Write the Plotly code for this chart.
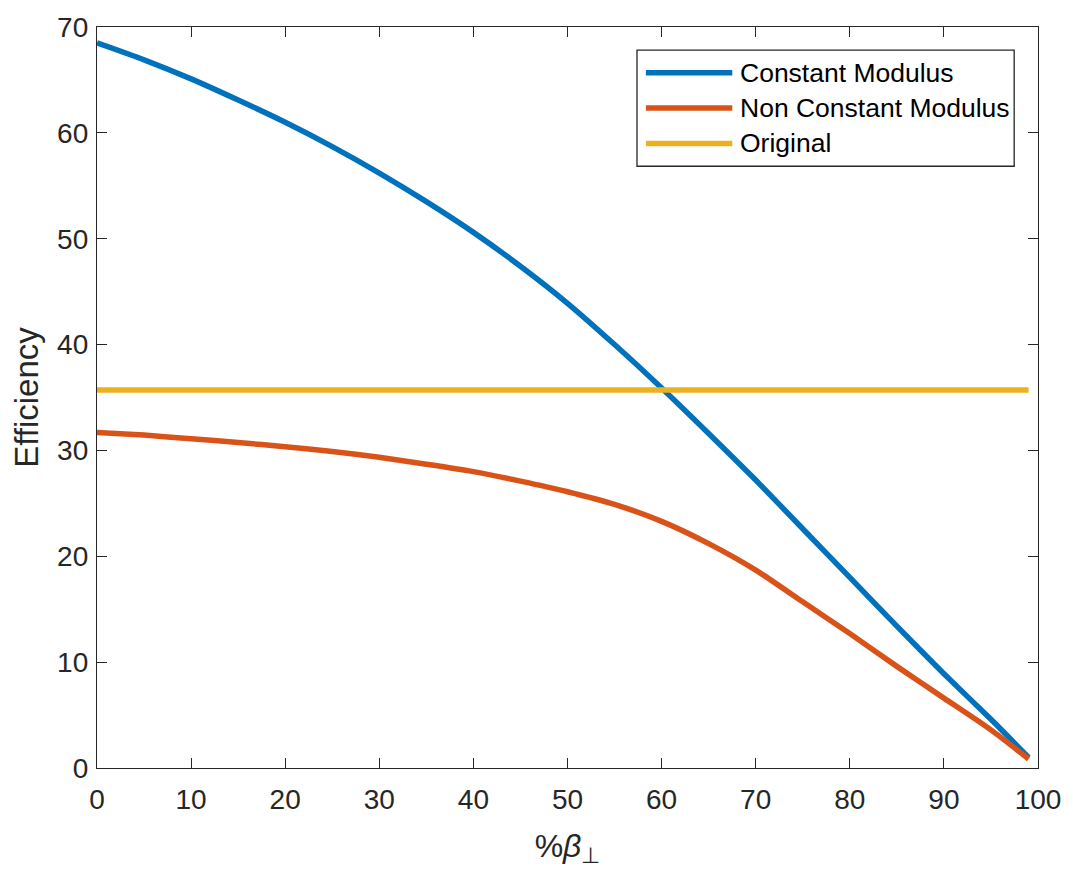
import plotly.graph_objects as go

# Percentage of perpendicular beta, sampled every 5 points up to 99
beta_pct = [0, 5, 10, 15, 20, 25, 30, 35, 40, 45, 50,
            55, 60, 65, 70, 75, 80, 85, 90, 95, 99]

# Efficiency of the constant-modulus design
eff_constant = [68.5, 66.9, 65.1, 63.1, 61.0, 58.7, 56.2, 53.5, 50.6, 47.4, 43.9,
                40.0, 35.9, 31.6, 27.2, 22.6, 18.0, 13.4, 8.9, 4.6, 1.0]

# Efficiency of the non-constant-modulus design
eff_nonconstant = [31.7, 31.45, 31.1, 30.75, 30.35, 29.9, 29.35, 28.7, 28.0, 27.1, 26.1,
                   24.9, 23.3, 21.2, 18.7, 15.7, 12.7, 9.6, 6.6, 3.6, 0.85]

# Efficiency of the original design (flat reference)
eff_original = 35.7

series_names = ["Constant Modulus", "Non Constant Modulus", "Original"]
series_colors = ["#0072BD", "#D95319", "#EDB120"]

axis_color = "#262626"
font_family = "Liberation Sans, Arial, Helvetica, sans-serif"

fig = go.Figure()
fig.add_trace(go.Scatter(x=beta_pct, y=eff_constant, mode="lines",
                         name=series_names[0],
                         line=dict(color=series_colors[0], width=5.5, shape="spline", smoothing=0.6)))
fig.add_trace(go.Scatter(x=beta_pct, y=eff_nonconstant, mode="lines",
                         name=series_names[1],
                         line=dict(color=series_colors[1], width=5.5, shape="spline", smoothing=0.6)))
fig.add_trace(go.Scatter(x=[beta_pct[0], beta_pct[-1]], y=[eff_original, eff_original],
                         mode="lines", name=series_names[2],
                         line=dict(color=series_colors[2], width=5.5)))

# Boxed legend drawn in paper coordinates
L, R, T, B = 97, 1045, 21.7, 768.3
W, H = R - L, B - T


def px(x):
    return (x - L) / W


def py(y):
    return (B - y) / H


shapes = [dict(type="rect", xref="paper", yref="paper",
               x0=px(641), x1=px(1021), y0=py(162), y1=py(45),
               line=dict(color=axis_color, width=1.3), fillcolor="white", layer="above")]
annotations = []
row_y = [67.7, 103.3, 139]
for name, color, yy in zip(series_names, series_colors, row_y):
    shapes.append(dict(type="line", xref="paper", yref="paper",
                       x0=px(650), x1=px(737), y0=py(yy), y1=py(yy),
                       line=dict(color=color, width=5.5), layer="above"))
    annotations.append(dict(xref="paper", yref="paper", x=px(743), y=py(yy),
                            text=name, showarrow=False, xanchor="left", yanchor="middle",
                            font=dict(family=font_family, size=26.5, color="black")))

axis_common = dict(
    showgrid=False, zeroline=False, showline=True, mirror="ticks",
    linecolor=axis_color, linewidth=1.3,
    ticks="inside", ticklen=10, tickwidth=1.3, tickcolor=axis_color,
    tickfont=dict(family=font_family, size=28, color=axis_color),
    dtick=10,
)

fig.update_layout(
    width=1073, height=869,
    margin=dict(l=L, r=1073 - R, t=T, b=869 - B),
    paper_bgcolor="white", plot_bgcolor="white",
    showlegend=False,
    font=dict(family=font_family, color=axis_color),
    xaxis=dict(range=[0, 100], tick0=0, ticklabelstandoff=6,
               title=dict(text="%<i>β</i><sub>⊥</sub>", standoff=20,
                          font=dict(family=font_family, size=32, color=axis_color)),
               **axis_common),
    yaxis=dict(range=[0, 70], tick0=0, ticklabelstandoff=2,
               title=dict(text="Efficiency", standoff=8,
                          font=dict(family=font_family, size=33, color=axis_color)),
               **axis_common),
    shapes=shapes,
    annotations=annotations,
)

fig.write_html("out.html")
